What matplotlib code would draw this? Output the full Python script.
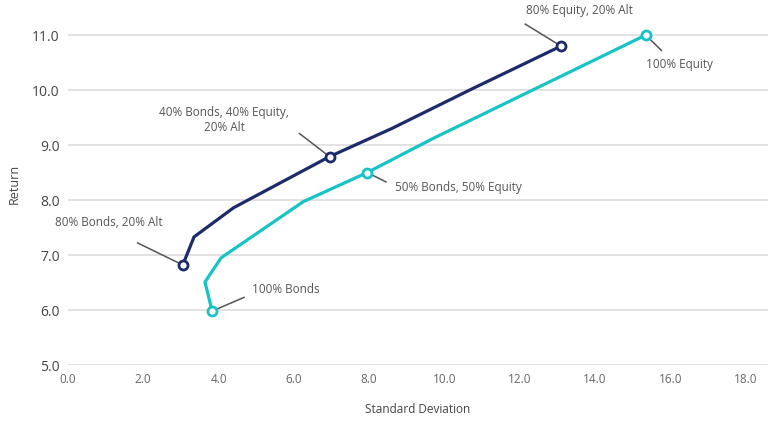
import matplotlib.pyplot as plt

# mixes with alternatives (dark line)
alt_sd = [3.05, 3.35, 4.4, 6.95, 8.6, 10.7, 13.1]
alt_ret = [6.82, 7.33, 7.86, 8.79, 9.3, 10.01, 10.8]
# bonds / equity only (cyan line)
be_sd = [3.83, 3.64, 4.07, 6.25, 7.95, 9.7, 15.35]
be_ret = [5.98, 6.51, 6.95, 7.97, 8.5, 9.12, 11.0]

# labelled portfolios: (index into series, label)
alt_labels = [(0, "80% Bonds, 20% Alt"), (3, "40% Bonds, 40% Equity,\n20% Alt"),
              (6, "80% Equity, 20% Alt")]
be_labels = [(0, "100% Bonds"), (4, "50% Bonds, 50% Equity"), (6, "100% Equity")]

navy = '#1b2b6b'
cyan = '#17c3c6'
grey = '#555555'

plt.rcParams['font.family'] = ['Open Sans', 'DejaVu Sans']
fig = plt.figure(figsize=(7.68, 4.21), dpi=100)
ax = fig.add_axes([0.0885, 0.133, 0.9115, 0.862])

ax.plot(alt_sd, alt_ret, color=navy, lw=2.3, zorder=3)
ax.plot(be_sd, be_ret, color=cyan, lw=2.3, zorder=3)
for i, _ in alt_labels:
    ax.plot(alt_sd[i], alt_ret[i], 'o', ms=6.5, mfc='white', mec=navy, mew=2, zorder=4)
for i, _ in be_labels:
    ax.plot(be_sd[i], be_ret[i], 'o', ms=6.5, mfc='white', mec=cyan, mew=2, zorder=4)

# text offset, leader line end (data units from the marker), alignment
offsets = {
    "80% Bonds, 20% Alt": ((-1.97, 0.77), (-1.2, 0.4), 'center'),
    "40% Bonds, 40% Equity,\n20% Alt": ((-2.8, 0.66), (-0.8, 0.42), 'center'),
    "80% Equity, 20% Alt": ((0.48, 0.64), (-0.95, 0.4), 'center'),
    "100% Bonds": ((1.06, 0.4), (0.85, 0.25), 'left'),
    "50% Bonds, 50% Equity": ((0.74, -0.27), (0.5, -0.17), 'left'),
    "100% Equity": ((0.0, -0.53), (0.42, -0.28), 'left'),
}

def annotate(xs, ys, labels):
    for i, lab in labels:
        (tx, ty), (lx, ly), ha = offsets[lab]
        ax.plot([xs[i], xs[i] + lx], [ys[i], ys[i] + ly], color=grey, lw=1.1, zorder=2)
        ax.text(xs[i] + tx, ys[i] + ty, lab, ha=ha, va='center', fontsize=8.5,
                color=grey, linespacing=1.2)

annotate(alt_sd, alt_ret, alt_labels)
annotate(be_sd, be_ret, be_labels)

ax.set_xlim(0, 18.6)
ax.set_ylim(5, 11.6)
ax.set_xticks([0, 2, 4, 6, 8, 10, 12, 14, 16, 18])
ax.set_xticklabels(['%.1f' % v for v in ax.get_xticks()], fontsize=8.5, color='#666666')
ax.set_yticks([5, 6, 7, 8, 9, 10, 11])
ax.set_yticklabels(['%.1f' % v for v in ax.get_yticks()], fontsize=10, color='#444444')
ax.tick_params(length=0, pad=6)
ax.grid(axis='y', color='#dddddd', lw=1.2)
ax.set_axisbelow(True)
for s in ax.spines.values():
    s.set_visible(False)
ax.set_xlabel('Standard Deviation', fontsize=8.5, color='#444444', labelpad=12)
ax.set_ylabel('Return', fontsize=9, color='#444444', labelpad=8)

fig.savefig('out.png', dpi=100)
